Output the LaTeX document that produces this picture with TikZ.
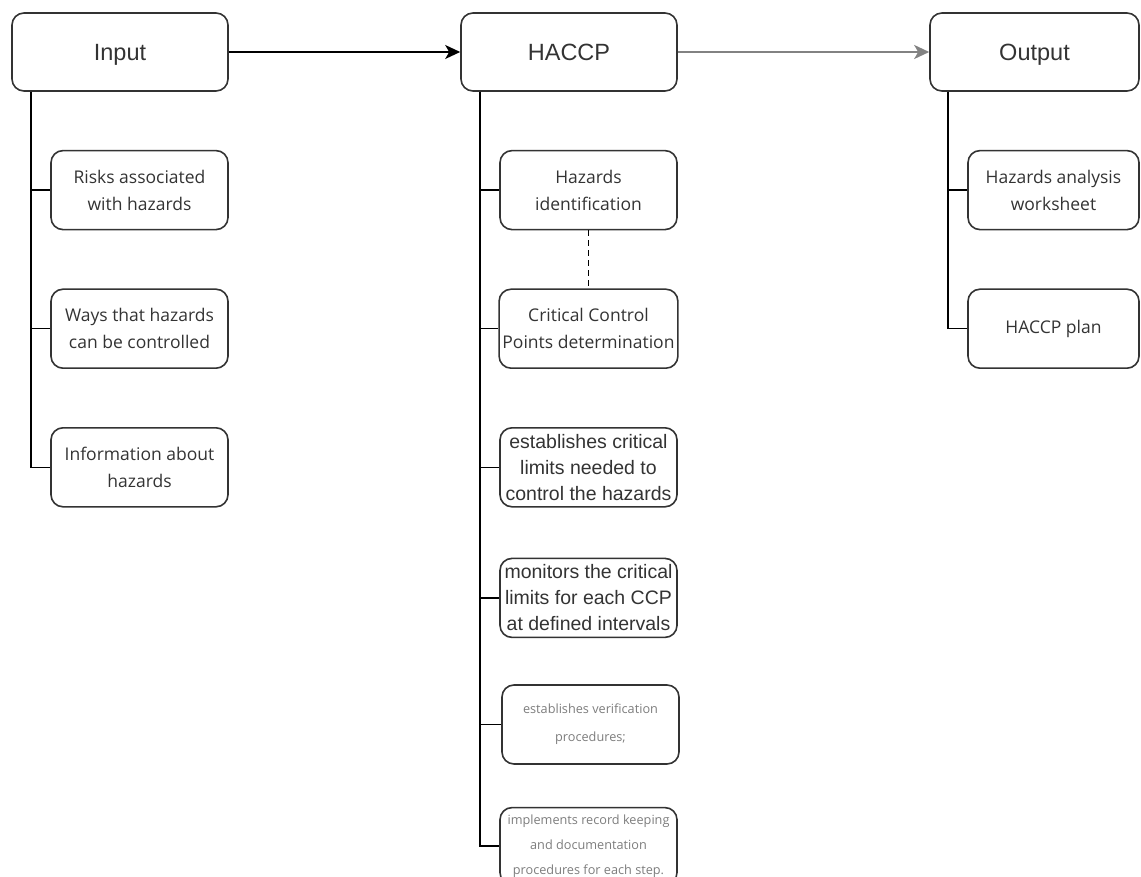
\documentclass[tikz,border=0pt]{standalone}
\usepackage{fontspec}
\setmainfont{Liberation Sans}
\newfontfamily\subfont{Open Sans}
\usetikzlibrary{positioning,arrows.meta,calc}
\definecolor{txtgray}{RGB}{51,51,51}
\definecolor{notegray}{RGB}{125,125,125}
\definecolor{flowgray}{RGB}{130,130,130}
\begin{document}
\begin{tikzpicture}[x=1pt, y=-1pt,
      top/.style={draw=txtgray, rounded corners=12pt, line width=1.6pt, minimum width=216pt, minimum height=78pt, text=txtgray, text height=17pt, text depth=0pt, font=\fontsize{23.5}{28}\selectfont},
      sub/.style={draw=txtgray, rounded corners=12pt, line width=1.6pt, minimum width=177pt, minimum height=79pt, align=center, text=txtgray, font=\subfont\fontsize{17.5}{27}\selectfont},
      subarial/.style={sub, font=\fontsize{19.5}{26}\selectfont},
      subnote/.style={sub, text=notegray, font=\subfont\fontsize{12.7}{28}\selectfont},
      link/.style={line width=1.6pt, black},
      >={Stealth[length=15pt,width=14pt,inset=4pt]}
    ]
    \useasboundingbox (0,0) rectangle (1141,877);
    \node[top] (in) at (120,52) {Input};
    \node[top] (hc) at (569,52) {HACCP};
    \node[top, minimum width=209pt] (out) at (1034.5,52) {Output};

    \node[sub, below right=58pt and 39pt of in.south west] (r1) {Risks associated\\with hazards};
    \node[sub, below=58pt of r1] (r2) {Ways that hazards\\can be controlled};
    \node[sub, below=58pt of r2] (r3) {Information about\\hazards};

    \node[sub, below right=58pt and 39pt of hc.south west] (h1) {Hazards\\identification};
    \node[sub, below=58pt of h1] (h2) {Critical Control\\Points determination};
    \node[subarial, below=58pt of h2] (h3) {establishes critical\\limits needed to\\control the hazards};
    \node[subarial, below=50pt of h3] (h4) {monitors the critical\\limits for each CCP\\at defined intervals};
    \node[subnote, below=46pt of h4, xshift=2pt] (h5) {establishes verification\\procedures;};
    \node[subnote, below=42pt of h5, xshift=-2pt, minimum height=77pt, font=\subfont\fontsize{12.7}{25}\selectfont] (h6) {implements record keeping\\and documentation\\procedures for each step.};

    \node[sub, minimum width=171pt, below right=58pt and 38pt of out.south west] (o1) {Hazards analysis\\worksheet};
    \node[sub, minimum width=171pt, below=58pt of o1] (o2) {HACCP plan};

    \coordinate (inbus) at ($(in.south west)+(20pt,0)$);
    \coordinate (hcbus) at ($(hc.south west)+(20pt,0)$);
    \coordinate (outbus) at ($(out.south west)+(19pt,0)$);

    \draw[->,link] (in) -- (hc);
    \draw[->,link,flowgray,line width=2.4pt] (hc) -- (out);

    \foreach \n in {r1,r2,r3}
      \draw[link] (inbus) |- (\n.west);
    \foreach \n in {h1,h2,h3,h4,h5,h6}
      \draw[link] (hcbus) |- (\n.west);
    \foreach \n in {o1,o2}
      \draw[link] (outbus) |- (\n.west);
    \draw[link,dash pattern=on 6pt off 4pt] (h1) -- (h2);
  \end{tikzpicture}
\end{document}
